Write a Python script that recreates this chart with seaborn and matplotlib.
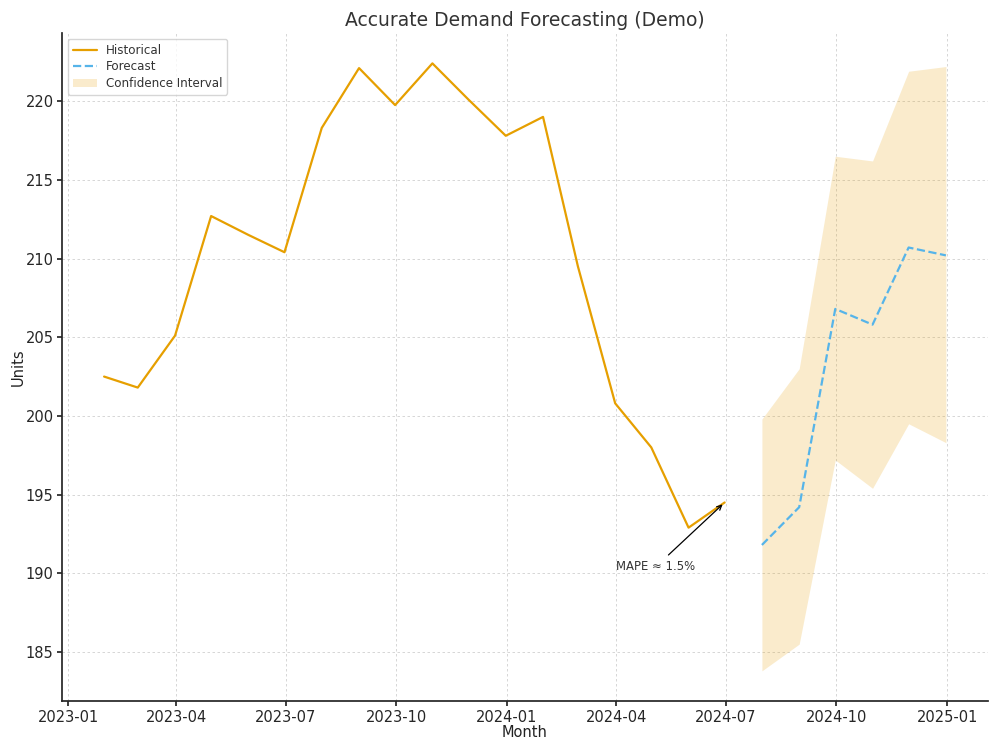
import matplotlib
matplotlib.use("Agg")
import matplotlib.pyplot as plt
import numpy as np
import pandas as pd
import seaborn as sns

# historical monthly demand (month-end)
hist_dates = pd.date_range("2023-01-31", "2024-06-30", freq="ME")
hist_units = [202.5, 201.8, 205.1, 212.7, 211.5, 210.4, 218.3, 222.1, 219.75,
              222.4, 220.1, 217.8, 219.0, 209.5, 200.8, 198.0, 192.9, 194.5]

# forecast with confidence interval
fc_dates = pd.date_range("2024-07-31", "2024-12-31", freq="ME")
fc_units = [191.8, 194.2, 206.8, 205.8, 210.7, 210.2]
ci_low = [183.8, 185.5, 197.2, 195.4, 199.5, 198.3]
ci_high = [199.8, 203.0, 216.5, 216.2, 221.9, 222.2]

mape_text = "MAPE ≈ 1.5%"

hist = pd.DataFrame({"Month": hist_dates, "Units": hist_units})
fc = pd.DataFrame({"Month": fc_dates, "Units": fc_units, "low": ci_low, "high": ci_high})

sns.set_theme(style="ticks")
plt.rcParams['font.family'] = ['DejaVu Sans']

fig, ax = plt.subplots(figsize=(10, 7.5), dpi=100)

sns.lineplot(data=hist, x="Month", y="Units", color="#E69F00", linewidth=1.6,
             label="Historical", ax=ax)
sns.lineplot(data=fc, x="Month", y="Units", color="#56B4E9", linewidth=1.6,
             linestyle="--", label="Forecast", ax=ax)
ax.fill_between(fc["Month"], fc["low"], fc["high"], color="#E69F00", alpha=0.2,
                linewidth=0, label="Confidence Interval")

ax.annotate(mape_text, xy=(hist_dates[-1], hist_units[-1]),
            xytext=(pd.Timestamp("2024-04-01"), 190.2),
            fontsize=8.4, color="#333333",
            arrowprops=dict(arrowstyle="->", color="black", lw=0.9))

ax.grid(True, linestyle=(0, (3, 3)), color="#d0d0d0", linewidth=0.6)
ax.set_title("Accurate Demand Forecasting (Demo)", fontsize=13.5, color="#333333", pad=5)
ax.set_xlabel("Month", fontsize=10.5, color="#222222")
ax.set_ylabel("Units", fontsize=10.5, color="#222222")
ax.yaxis.set_label_coords(-0.039, 0.5)
ax.xaxis.set_label_coords(0.5, -0.036)
ax.tick_params(labelsize=10.5, length=3.5, pad=2.5)
ax.xaxis.set_major_formatter(matplotlib.dates.DateFormatter("%Y-%m"))
ax.xaxis.set_major_locator(matplotlib.dates.MonthLocator(bymonth=[1, 4, 7, 10]))
leg = ax.legend(loc="upper left", fontsize=8.6, frameon=True, labelspacing=0.3,
                handlelength=2.0, borderpad=0.4)
for t in leg.get_texts():
    t.set_color("#333333")
sns.despine()

fig.subplots_adjust(left=0.062, right=0.988, top=0.956, bottom=0.065)
fig.savefig("out.png")
